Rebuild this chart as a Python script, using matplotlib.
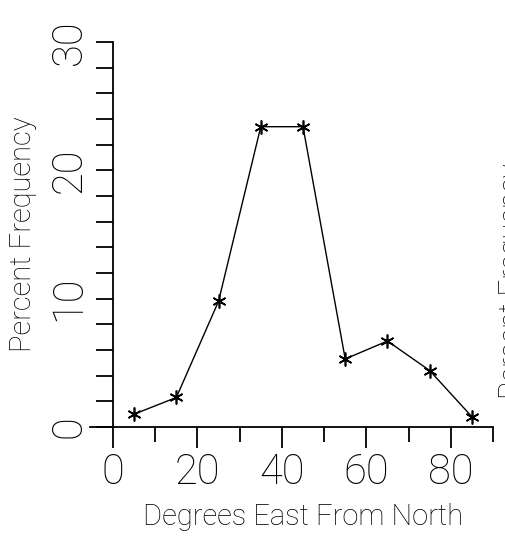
import matplotlib
matplotlib.use("Agg")
import matplotlib.pyplot as plt
from matplotlib.ticker import MultipleLocator

degrees = [5, 15, 25, 35, 45, 55, 65, 75, 85]
percent = [1.0, 2.3, 9.8, 23.4, 23.4, 5.3, 6.7, 4.4, 0.8]
x_ticks = [0, 20, 40, 60, 80]
y_ticks = [0, 10, 20, 30]

plt.rcParams["font.family"] = ["Roboto", "DejaVu Sans"]
plt.rcParams["font.weight"] = "light"
plt.rcParams["axes.labelweight"] = "light"

fig = plt.figure(figsize=(5.06, 5.40), dpi=100)
ax = fig.add_axes([113/506, 1-427/540, (493-113)/506, (427-42)/540])

ax.plot(degrees, percent, color="black", lw=1.0,
        marker=(6, 2, 0), markersize=10, markeredgewidth=1.2)

ax.set_xlim(0, 90)
ax.set_ylim(0, 30)
ax.set_xticks(x_ticks)
ax.set_yticks(y_ticks)
ax.xaxis.set_minor_locator(MultipleLocator(10))
ax.yaxis.set_minor_locator(MultipleLocator(2))

for s in ["top", "right"]:
    ax.spines[s].set_visible(False)
for s in ["left", "bottom"]:
    ax.spines[s].set_linewidth(1.3)
ax.spines["bottom"].set_bounds(-5.5, 90)
ax.spines["bottom"].set_clip_on(False)

ax.tick_params(axis="x", which="major", direction="out", length=15, width=1.3,
               labelsize=30, pad=3)
ax.tick_params(axis="x", which="minor", direction="out", length=11, width=1.3)
ax.tick_params(axis="y", which="both", direction="out", length=12, width=1.3,
               labelsize=30, pad=5)
for lbl in ax.get_yticklabels():
    lbl.set_rotation(90)
    lbl.set_va("center")

ax.set_xlabel("Degrees East From North", fontsize=21, labelpad=7)
ax.set_ylabel("Percent Frequency", fontsize=21, labelpad=8)

fig.text(498/506, 0.48, "Percent Frequency", rotation=90, fontsize=21,
         ha="left", va="center")

fig.savefig("out.png", dpi=100, facecolor="white")
